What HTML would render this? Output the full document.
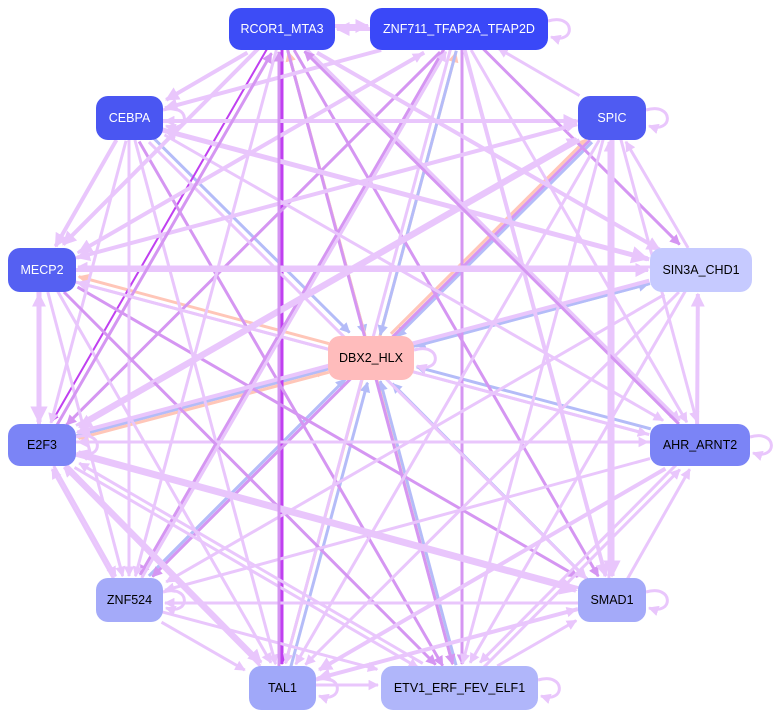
<!DOCTYPE html>
<html><head><meta charset="utf-8"><style>
html,body{margin:0;padding:0;background:#fff;width:782px;height:718px;overflow:hidden}
svg{position:absolute;left:0;top:0}
.n{position:absolute;border-radius:12px;font-family:"Liberation Sans",sans-serif;font-size:12.5px;display:flex;align-items:center;justify-content:center;color:#fff}
</style></head><body>
<svg id="g" width="782" height="718" xmlns="http://www.w3.org/2000/svg">
<defs>
<marker id="m0" viewBox="0 0 10 10" refX="9" refY="5" markerWidth="3.5" markerHeight="3.5" orient="auto"><path d="M0,0L10,5L0,10z" fill="#e9c6fc"/></marker>
<marker id="m1" viewBox="0 0 10 10" refX="9" refY="5" markerWidth="3.5" markerHeight="3.5" orient="auto"><path d="M0,0L10,5L0,10z" fill="#d596f2"/></marker>
<marker id="m2" viewBox="0 0 10 10" refX="9" refY="5" markerWidth="3.5" markerHeight="3.5" orient="auto"><path d="M0,0L10,5L0,10z" fill="#c040f0"/></marker>
<marker id="m3" viewBox="0 0 10 10" refX="9" refY="5" markerWidth="3.5" markerHeight="3.5" orient="auto"><path d="M0,0L10,5L0,10z" fill="#b4bcf8"/></marker>
<marker id="m4" viewBox="0 0 10 10" refX="9" refY="5" markerWidth="3.5" markerHeight="3.5" orient="auto"><path d="M0,0L10,5L0,10z" fill="#ffc6b8"/></marker>
</defs>
<g id="e"></g>
</svg>
<div class="n" style="left:229px;top:8px;width:106px;height:42px;background:#3d4cf6">RCOR1_MTA3</div>
<div class="n" style="left:370px;top:8px;width:178px;height:42px;background:#3a48f8">ZNF711_TFAP2A_TFAP2D</div>
<div class="n" style="left:96px;top:96px;width:67px;height:44px;background:#4a56f2">CEBPA</div>
<div class="n" style="left:578px;top:96px;width:68px;height:44px;background:#4f5bf2">SPIC</div>
<div class="n" style="left:8px;top:248px;width:68px;height:44px;background:#5560f2">MECP2</div>
<div class="n" style="left:650px;top:248px;width:102px;height:44px;background:#c6caff;color:#000">SIN3A_CHD1</div>
<div class="n" style="left:328px;top:336px;width:86px;height:44px;background:#ffbcbc;color:#000">DBX2_HLX</div>
<div class="n" style="left:8px;top:424px;width:68px;height:42px;background:#7b84f6;color:#000">E2F3</div>
<div class="n" style="left:650px;top:424px;width:100px;height:42px;background:#7b84f6;color:#000">AHR_ARNT2</div>
<div class="n" style="left:96px;top:578px;width:67px;height:44px;background:#a4aaf9;color:#000">ZNF524</div>
<div class="n" style="left:578px;top:578px;width:68px;height:44px;background:#a4aaf9;color:#000">SMAD1</div>
<div class="n" style="left:249px;top:666px;width:67px;height:44px;background:#a0a8f9;color:#000">TAL1</div>
<div class="n" style="left:381px;top:666px;width:157px;height:44px;background:#b0b6fa;color:#000">ETV1_ERF_FEV_ELF1</div>
<script>
var N={R:[282,29,53,21],Z:[459,29,89,21],C:[129,118,34,22],S:[612,118,34,22],M:[42,270,34,22],I:[701,270,51,22],D:[371,358,43,22],E:[42,445,34,21],A:[700,445,50,21],Q:[129,600,34,22],B:[612,600,34,22],T:[282,688,34,22],V:[459,688,79,22]};
var cols=["#e9c6fc","#d596f2","#c040f0","#b4bcf8","#ffc6b8"];
var E=[
["C","D",3,3],["R","D",3,3],["D","Z",4,3],["S","D",3,3],["I","D",3,3],["A","D",3,3],["B","D",3,3],["D","V",4,3],["T","D",3,3],["Q","D",3,3],["E","D",4,3],["D","M",4,3],["D","S",4,3],["D","R",4,3],["V","D",3,3],["D","E",4,3],["E","I",3,3],["D","T",4,3],["Z","D",3,3],
["R","T",2,3],["R","E",2,2],["Z","V",1,3],["R","V",1,3],["Z","Q",1,3],["Z","E",1,3],["R","B",1,3],["C","V",1,3],["M","B",1,3],["S","Q",1,3],["A","E",0,3],["R","C",0,4],["Z","C",0,4],
["C","S",0,4],["S","C",0,3],["M","I",0,4],["I","M",0,3],["E","A",0,3],["C","M",0,4],["M","E",0,5],["E","M",0,4],["E","Q",0,3],["Q","T",0,3],["T","V",0,3],["V","B",0,3],["B","A",0,3],["A","I",0,4],["I","S",0,3],["S","Z",0,3],["R","Z",0,4],["Z","R",0,4],
["C","I",0,5],["C","A",0,3],["C","T",0,3],["C","B",0,3],["C","E",0,3],["C","Q",0,3],["R","I",0,4],["R","A",0,3],["R","Q",0,3],["R","M",0,4],["Z","M",0,4],["Z","B",0,4],["Z","T",0,3],["Z","I",1,3],["Z","A",0,3],
["S","M",0,4],["S","E",0,4],["S","T",0,3],["S","V",0,3],["S","A",0,3],["S","B",0,5],["M","Z",0,3],["M","T",0,3],["M","V",1,3],["M","A",0,3],["M","S",0,3],["M","Q",0,3],
["I","E",0,4],["I","Q",0,3],["I","T",0,3],["I","V",0,3],["I","C",0,4],["E","B",0,5],["E","V",0,3],["E","T",0,4],["E","S",0,3],["E","R",1,3],["A","T",0,4],["A","Q",0,3],["A","V",0,3],["A","M",0,3],["A","R",1,3],
["Q","V",0,3],["Q","E",0,3],["B","T",0,4],["B","E",0,3],["B","Q",0,3],["T","B",0,3],["V","A",0,3],["T","R",1,3],["T","E",0,3],["V","E",0,3],["B","S",0,3],["Q","Z",0,3]];
function bd(n,dx,dy){var t=Math.min(n[2]/Math.abs(dx||1e-6),n[3]/Math.abs(dy||1e-6));return [n[0]+dx*t,n[1]+dy*t];}
var s="";
E.forEach(function(e,i){var a=N[e[0]],b=N[e[1]];var dx=b[0]-a[0],dy=b[1]-a[1];var off=((i%3)-1)*3;var L=Math.hypot(dx,dy),px=-dy/L*off,py=dx/L*off;
var p=bd(a,dx,dy),q=bd(b,-dx,-dy);q=[q[0]-dx/L*2,q[1]-dy/L*2];
s+='<line x1="'+(p[0]+px)+'" y1="'+(p[1]+py)+'" x2="'+(q[0]+px)+'" y2="'+(q[1]+py)+'" stroke="'+cols[e[2]]+'" stroke-width="'+e[3]+'" marker-end="url(#m'+e[2]+')"/>';});
[["Z",548,29],["S",646,118],["D",414,358],["A",750,445],["Q",163,600],["B",646,600],["T",316,688],["V",538,688],["E",76,445],["C",163,118]].forEach(function(l){var x=l[1],y=l[2];
s+='<path d="M'+x+','+(y-8)+' C'+(x+28)+','+(y-16)+' '+(x+28)+','+(y+16)+' '+(x+3)+','+(y+8)+'" fill="none" stroke="#e9c6fc" stroke-width="3" marker-end="url(#m0)"/>';});
document.getElementById("e").innerHTML=s;
</script>
</body></html>
